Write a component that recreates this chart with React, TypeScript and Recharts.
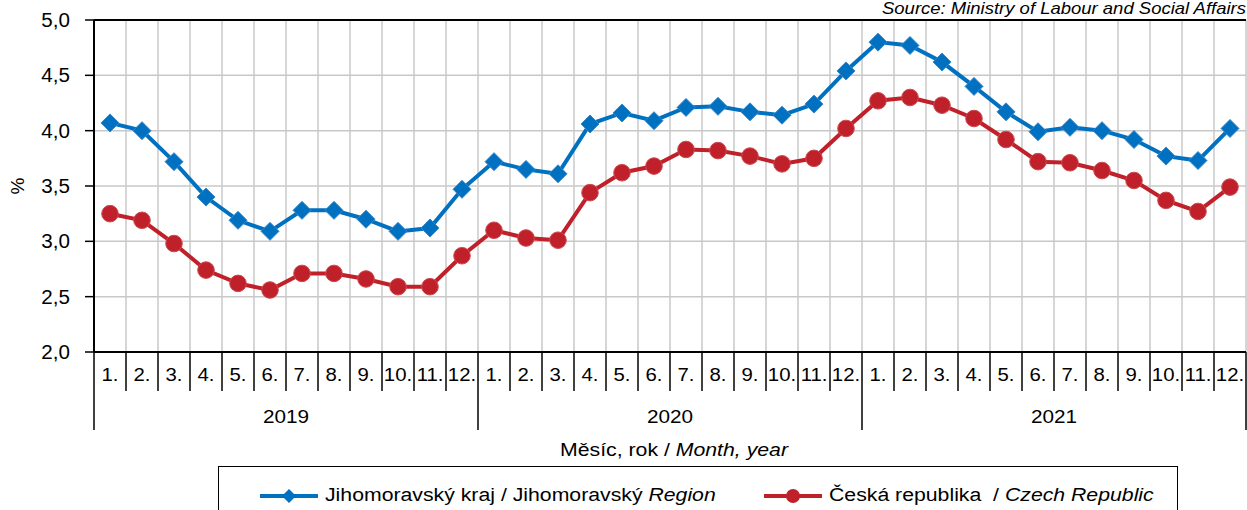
import React from 'react';
import { LineChart, Line, XAxis, YAxis, CartesianGrid, ReferenceLine, Legend, Label } from 'recharts';

const months = ['1.', '2.', '3.', '4.', '5.', '6.', '7.', '8.', '9.', '10.', '11.', '12.'];
const years = ['2019', '2020', '2021'];
const jihomoravsky = [
  4.07, 4.0, 3.72, 3.4, 3.19, 3.09, 3.28, 3.28, 3.2, 3.09, 3.12, 3.47,
  3.72, 3.65, 3.61, 4.06, 4.16, 4.09, 4.21, 4.22, 4.17, 4.14, 4.24, 4.54,
  4.8, 4.77, 4.62, 4.4, 4.17, 3.99, 4.03, 4.0, 3.92, 3.77, 3.73, 4.02,
];
const ceska = [
  3.25, 3.19, 2.98, 2.74, 2.62, 2.56, 2.71, 2.71, 2.66, 2.59, 2.59, 2.87,
  3.1, 3.03, 3.01, 3.44, 3.62, 3.68, 3.83, 3.82, 3.77, 3.7, 3.75, 4.02,
  4.27, 4.3, 4.23, 4.11, 3.92, 3.72, 3.71, 3.64, 3.55, 3.37, 3.27, 3.49,
];
const yTicks = [2.0, 2.5, 3.0, 3.5, 4.0, 4.5, 5.0];
const seriesLabels = [
  { main: 'Jihomoravský kraj', mid: ' / Jihomoravský ', it: 'Region' },
  { main: 'Česká republika', mid: '  / ', it: 'Czech Republic' },
];
const sourceText = 'Source: Ministry of Labour and Social Affairs';
const axisTitle = { main: 'Měsíc, rok / ', it: 'Month, year' };

const BLUE = '#0070C0';
const RED = '#C0202A';
const FONT = '"Liberation Sans", Arial, sans-serif';
const SX = 1.15;

const data = jihomoravsky.map((v, i) => ({
  idx: i,
  month: months[i % 12],
  year: years[Math.floor(i / 12)],
  jm: v,
  cr: ceska[i],
}));

const SText = ({ x, y, anchor = 'middle', size = 18.5, sx = SX, children }: any) => (
  <text
    transform={`translate(${x},${y}) scale(${sx},1)`}
    textAnchor={anchor}
    fontSize={size}
    fontFamily={FONT}
    fill="#000"
  >
    {children}
  </text>
);

const MonthTick = (props: any) => {
  const { x, y, payload } = props;
  const i = payload.value as number;
  const half = payload.offset ?? 16;
  const left = x - half;
  const yearStart = i % 12 === 0;
  const last = i === data.length - 1;
  return (
    <g>
      <line x1={left} y1={y} x2={left} y2={y + (yearStart ? 78 : 39)} stroke="#000" strokeWidth={1.5} />
      {last && <line x1={x + half} y1={y} x2={x + half} y2={y + 78} stroke="#000" strokeWidth={1.5} />}
      <SText x={x} y={y + 29} sx={1.1}>{data[i].month}</SText>
      {yearStart && (
        <SText x={left + half * 12} y={y + 71} sx={1.12}>{data[i].year}</SText>
      )}
    </g>
  );
};

const YTick = (props: any) => {
  const { x, y, payload } = props;
  return (
    <SText x={x} y={y + 7} anchor="end" size={20} sx={1.03}>
      {Number(payload.value).toFixed(1).replace('.', ',')}
    </SText>
  );
};

const Diamond = (props: any) => {
  const { cx, cy } = props;
  if (cx == null || cy == null) return null;
  const r = 9;
  return (
    <path
      d={`M${cx},${cy - r}L${cx + r},${cy}L${cx},${cy + r}L${cx - r},${cy}Z`}
      fill={BLUE}
      stroke="#3A86C8"
      strokeWidth={1}
    />
  );
};

const Dot = (props: any) => {
  const { cx, cy } = props;
  if (cx == null || cy == null) return null;
  return <circle cx={cx} cy={cy} r={8.3} fill={RED} stroke="#CC4A50" strokeWidth={1} />;
};

const LegendContent = () => (
  <div style={{ position: 'relative', width: '100%', height: '100%', fontFamily: FONT, fontSize: 18, color: '#000' }}>
    {seriesLabels.map((s, k) => (
      <div
        key={k}
        style={{ position: 'absolute', left: k === 0 ? 41 : 545, top: 18, display: 'flex', alignItems: 'center', whiteSpace: 'pre' }}
      >
        <svg width={58} height={20} style={{ marginRight: 7 }}>
          <line x1={0} y1={10} x2={58} y2={10} stroke={k === 0 ? BLUE : RED} strokeWidth={4} />
          {k === 0 ? (
            <path d="M29,3L36,10L29,17L22,10Z" fill={BLUE} />
          ) : (
            <circle cx={29} cy={10} r={7} fill={RED} />
          )}
        </svg>
        <div style={{ display: 'inline-block', transform: `scaleX(${SX + 0.03})`, transformOrigin: 'left center' }}>
          <span>{s.main}</span>
          <span>{s.mid}</span>
          <span style={{ fontStyle: 'italic' }}>{s.it}</span>
        </div>
      </div>
    ))}
  </div>
);

export default function App() {
  return (
    <div style={{ position: 'relative', width: 1247, height: 510, background: '#fff', overflow: 'hidden' }}>
      <style>{`body{margin:0;background:#fff}`}</style>
      <LineChart width={1247} height={510} data={data} margin={{ top: 20, right: 1, left: 0, bottom: 68 }}>
        <CartesianGrid
          stroke="#C8C8C8"
          strokeWidth={1.5}
          verticalCoordinatesGenerator={({ offset }: any) =>
            Array.from({ length: data.length + 1 }, (_, i) => offset.left + (i * offset.width) / data.length)
          }
        />
        <XAxis
          dataKey="idx"
          type="category"
          scale="band"
          interval={0}
          height={90}
          tickSize={0}
          tickMargin={0}
          tickLine={false}
          axisLine={{ stroke: '#000', strokeWidth: 2 }}
          tick={<MonthTick />}
        >
          <Label
            content={(p: any) => {
              const vb = p.viewBox;
              return (
                <text
                  transform={`translate(${vb.x + vb.width / 2 + 4},${vb.y + 104}) scale(${SX},1)`}
                  textAnchor="middle"
                  fontSize={18.5}
                  fontFamily={FONT}
                  fill="#000"
                >
                  {axisTitle.main}
                  <tspan fontStyle="italic">{axisTitle.it}</tspan>
                </text>
              );
            }}
          />
        </XAxis>
        <YAxis
          domain={[2, 5]}
          ticks={yTicks}
          width={94}
          interval={0}
          tick={<YTick />}
          tickSize={9}
          tickMargin={15}
          tickLine={{ stroke: '#000', strokeWidth: 1.5 }}
          axisLine={{ stroke: '#000', strokeWidth: 2 }}
        >
          <Label
            content={(p: any) => {
              const vb = p.viewBox;
              const cy = vb.y + vb.height / 2;
              return (
                <text x={24} y={cy} transform={`rotate(-90, 24, ${cy})`} textAnchor="middle" fontSize={19} fontFamily={FONT} fill="#000">
                  %
                </text>
              );
            }}
          />
        </YAxis>
        <ReferenceLine y={5} stroke="#000" strokeWidth={2} />
        <Legend
          layout="horizontal"
          verticalAlign="middle"
          align="center"
          wrapperStyle={{ position: 'absolute', left: 218, top: 466, width: 960, height: 60, border: '1px solid #000', boxSizing: 'border-box', background: '#fff' }}
          content={<LegendContent />}
        />
        <Line dataKey="jm" name={seriesLabels[0].main} stroke={BLUE} strokeWidth={4} dot={<Diamond />} activeDot={false} isAnimationActive={false} />
        <Line dataKey="cr" name={seriesLabels[1].main} stroke={RED} strokeWidth={4} dot={<Dot />} activeDot={false} isAnimationActive={false} />
      </LineChart>
      <div
        style={{
          position: 'absolute', right: 1, top: -2, fontFamily: FONT, fontSize: 16.5, fontStyle: 'italic', color: '#000',
          lineHeight: '20px', whiteSpace: 'nowrap', transform: 'scaleX(1.12)', transformOrigin: 'right center',
        }}
      >
        {sourceText}
      </div>
    </div>
  );
}
